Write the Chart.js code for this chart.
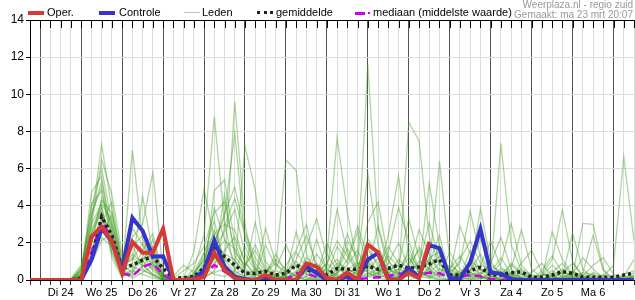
<!DOCTYPE html>
<html>
<head>
<meta charset="utf-8">
<script src="https://cdn.jsdelivr.net/npm/chart.js@4.4.1/dist/chart.umd.min.js"></script>
<style>
  body { margin: 0; background: #fff; }
  #wrap { position: relative; width: 635px; height: 300px; font-family: "Liberation Sans", Arial, sans-serif; }
  #wrap canvas { position: absolute; left: 0; top: 0; }
  .lg { position: absolute; top: 6px; font-size: 11px; color: #000; white-space: nowrap; line-height: 13px; }
  .sw { position: absolute; width: 16px; }
  .info { position: absolute; right: 2px; font-size: 10px; color: #999; white-space: nowrap; }
</style>
</head>
<body>
<div id="wrap">
  <canvas id="ensChart" width="635" height="300"></canvas>
  <div class="sw" style="left:28px;top:11px;border-top:4px solid #d43a36"></div>
  <div class="lg" style="left:47px">Oper.</div>
  <div class="sw" style="left:99px;top:11px;border-top:4px solid #3535cc"></div>
  <div class="lg" style="left:119px">Controle</div>
  <div class="sw" style="left:184px;top:12px;border-top:1px solid #a8d49a"></div>
  <div class="lg" style="left:202px">Leden</div>
  <div class="sw" style="left:257px;top:11px;border-top:3px dotted #222"></div>
  <div class="lg" style="left:276px">gemiddelde</div>
  <div class="sw" style="left:355px;top:12px;width:10px;border-top:3px solid #d000ee"></div>
  <div class="sw" style="left:368px;top:12px;width:2px;border-top:2px solid #d000ee"></div>
  <div class="lg" style="left:373px">mediaan (middelste waarde)</div>
  <div class="info" style="top:-1px">Weerplaza.nl - regio zuid</div>
  <div class="info" style="top:9px">Gemaakt: ma 23 mrt 20:07</div>
</div>
<script>
// uren vanaf di 24 00:00
var hours = [-6, 0, 6, 12, 18, 24, 30, 36, 42, 48, 54, 60, 66, 72, 78, 84, 90, 96, 102, 108,
  114, 120, 126, 132, 138, 144, 150, 156, 162, 168, 174, 180, 186, 192, 198, 204, 210, 216, 222, 228,
  234, 240, 246, 252, 258, 264, 270, 276, 282, 288, 294, 300, 306, 312, 318, 324, 330, 336, 342, 348];

var dayNames = ['Di 24', 'Wo 25', 'Do 26', 'Vr 27', 'Za 28', 'Zo 29', 'Ma 30', 'Di 31',
  'Wo 1', 'Do 2', 'Vr 3', 'Za 4', 'Zo 5', 'Ma 6'];

var yTicks = [0, 2, 4, 6, 8, 10, 12, 14];

var oper = [0, 0, 0, 0, 0, 0, 2.33, 2.87, 2.06, 0.37, 2.06, 1.47, 1.47, 2.76, 0, 0, 0.05, 0.15, 1.47, 0.54,
  0.09, 0, 0, 0.27, 0, 0, 0, 0.9, 0.72, 0.09, 0, 0.4, 0, 1.9, 1.5, 0, 0, 0.4, 0.09, 2.06];

var controle = [0, 0, 0, 0, 0, 0, 1.08, 2.78, 2.06, 0.54, 3.34, 2.65, 1.26, 1.28, 0, 0, 0.05, 0.5, 2.15, 0.72,
  0.18, 0.05, 0, 0.1, 0, 0, 0, 0.72, 0.38, 0, 0, 0.2, 0.05, 1.1, 1.45, 0.05, 0, 0.65, 0.15, 1.88,
  1.7, 0.1, 0.05, 0.95, 2.75, 0.4, 0.34, 0.05, 0, 0, 0, 0, 0, 0, 0, 0, 0, 0, 0, 0];

var gemiddelde = [0, 0, 0, 0, 0, 0.1, 1.1, 3.41, 2.4, 0.63, 0.8, 1.08, 1.26, 0.63, 0.1, 0.12, 0.18, 0.65, 1.83, 1.26,
  0.8, 0.36, 0.36, 0.45, 0.27, 0.36, 0.8, 0.54, 0.45, 0.27, 0.63, 0.58, 0.58, 0.75, 0.58, 0.63, 0.8, 0.63, 0.7, 0.86,
  1.1, 0.27, 0.27, 0.5, 0.68, 0.27, 0.27, 0.4, 0.43, 0.15, 0.15, 0.27, 0.45, 0.36, 0.15, 0.15, 0.15, 0.15, 0.27, 0.36];

var mediaan = [0, 0, 0, 0, 0, 0, 1.5, 3.14, 2.24, 0.37, 0.2, 0.72, 0.9, 0.27, 0, 0, 0.05, 0.27, 0.8, 0.45,
  0.15, 0.03, 0.03, 0.03, 0.03, 0.03, 0.36, 0.36, 0.15, 0.05, 0.05, 0.05, 0.05, 0.1, 0.15, 0.2, 0.36, 0.27, 0.27, 0.4,
  0.36, 0.1, 0.18, 0.27, 0.2, 0.05, 0, 0, 0, 0, 0, 0, 0, 0, 0, 0, 0, 0, 0, 0];

var leden = [
  [0,0,0,0,0, 0.4,3.2,7.3,3.8, 0.6,1.2,0.8,0.3, 0,0,0,0.6, 2.4,8.8,3.1,0.5, 0.2,0,0.4,1.1, 0.6,0.2,0,0, 0.3,1.8,0.9,2.6, 0.8,0.1,0,0.5, 1.2,0.4,0.1,0, 0,0.3,0.9,0.2, 0,0,0.4,0.1, 0,0,0.2,0, 0,0,0.1,0, 0,0,0],
  [0,0,0,0,0, 0.2,4.7,5.6,2.1, 0.3,7.0,2.2,1.0, 0.1,0,0,0.2, 1.4,3.2,0.7,9.6, 3.0,0.4,0,0, 0.2,1.5,0.7,0.3, 0,0.4,2.1,1.2, 11.6,2.8,0.6,0.2, 0.9,1.6,0.5,0.2, 0,0,0.5,1.4, 0.3,0,0,0, 0,0.2,0.8,0.3, 0,0,0,0, 0,0.2,0.1],
  [0,0,0,0,0.1, 0.8,2.9,6.5,4.6, 1.4,2.3,3.0,5.8, 0.4,0,0.1,1.5, 4.9,2.2,1.3,0.6, 7.2,4.85,1.0,0.3, 0.1,0,0.5,0.2, 0.6,0.2,0,0.4, 0.5,1.2,0.3,0, 0,0.2,0.6,6.4, 1.1,0.2,0,0.3, 0.8,0.4,0.1,0, 0,0,0,0, 0.3,1.2,0.6,0.1, 0,0,0.2],
  [0,0,0,0,0, 0.3,1.9,4.4,2.9, 0.8,0.4,1.6,2.5, 0.2,0,0,0, 0.3,4.8,5.4,2.0, 0.6,0.2,1.9,0.7, 6.46,5.9,1.4,0.2, 0,0.1,0.5,1.0, 5.75,1.9,0.4,0.1, 8.5,7.5,2.3,0.8, 0.3,0.1,0.4,0.2, 0,0.5,0.2,0, 0.1,0.3,1.1,3.77, 1.0,0.2,0,0, 0,0.1,0],
  [0,0,0,0,0, 0.5,3.6,5.0,1.7, 0.2,0.6,1.2,0.9, 0,0,0,0.1, 0.9,1.7,2.6,3.8, 1.4,0.5,0.2,0, 0,0.3,1.8,3.3, 1.2,7.7,3.6,0.8, 0.4,0.2,1.5,3.9, 2.1,0.6,5.2,1.8, 0.4,0.9,3.7,1.2, 0.2,0,0.3,0.6, 0.2,0,0,0, 0,0.4,0.3,0.1, 0,0,0],
  [0,0,0,0,0, 0.1,2.2,3.1,4.2, 0.9,3.5,2.7,1.1, 0.3,0.1,0.5,0.9, 1.8,3.6,4.2,1.5, 0.8,1.6,0.5,0.2, 0,0,0.2,0.9, 0.4,0.1,0.6,0.3, 1.6,0.9,0.2,0.6, 1.4,0.6,0.9,2.4, 0.2,1.1,2.1,0.9, 0.4,7.36,1.9,0.5, 0.1,0,0.1,0.4, 0.9,0.2,0,0, 0.1,0,0],
  [0,0,0,0,0, 0,1.2,2.6,3.5, 0.5,0.1,0.4,0.8, 0,0,0,0.3, 1.1,0.6,2.9,4.4, 2.4,0.9,0.3,0.1, 0.3,2.6,0.8,0.4, 0.9,2.1,1.3,0.4, 3.1,4.2,1.1,0.3, 0.2,0.1,0.7,1.3, 0.6,0.3,0.2,3.86, 1.0,0.2,0,0.1, 0,0.1,2.6,1.1, 0.3,0.2,0.1,0, 0,0.2,1.1],
  [0,0,0,0,0, 0.6,2.7,3.9,1.2, 0.1,1.9,0.6,0.2, 0,0,0,0, 0.2,0.9,1.4,1.1, 0.3,0.1,0,0.6, 1.9,0.7,0.3,2.2, 0.5,0.3,1.1,2.9, 1.3,0.4,0,0.2, 0.6,2.7,1.4,0.4, 0.1,0,0.2,0.6, 0.3,0.9,3.05,0.8, 0.2,0,0.3,0.2, 2.5,0.6,0.1,0, 0,0,0.3],
  [0,0,0,0,0, 0.2,0.9,2.1,2.5, 0.4,0.3,0.7,1.6, 0.1,0,0,0, 0.4,1.2,0.8,0.3, 0.1,0,0.3,1.4, 0.4,0.2,0.1,0, 0,0.6,0.3,0.2, 0.8,0.3,2.4,5.6, 1.2,0.4,0.2,0, 0,0.2,0.8,2.2, 0.6,0.2,0.1,0.9, 1.6,0.4,0,0, 0.2,3.05,3.0,0.6, 0,0,0],
  [0,0,0,0,0, 0.3,4.1,4.8,2.3, 0.7,0.9,4.5,1.4, 0.2,0,0.1,0.2, 0.6,2.0,3.4,7.9, 2.2,0.7,0.4,0.9, 0.2,0,0,0.3, 2.0,0.8,0.2,0.1, 0.3,0.6,1.8,0.9, 0.4,0.2,1.1,0.6, 0.2,0.5,0.3,0.1, 0,0.2,0.6,2.7, 0.6,0.1,0,0.2, 0.1,0,0.4,0.2, 0.8,6.64,2.1],
  [0,0,0,0,0, 0.1,1.6,3.3,2.8, 0.2,0.5,0.3,0.1, 0,0,0,0, 0.1,0.5,1.6,2.3, 1.0,0.2,2.8,0.9, 0.4,1.1,2.4,0.8, 0.3,0.2,0,0.6, 2.2,1.4,0.5,0.8, 3.3,1.2,0.3,0.2, 0.5,0.2,0,0.1, 0.2,0.4,0.1,0, 0,0.5,1.3,0.4, 0.1,0,0,0.3, 0.1,0,0.2],
  [0,0,0,0,0, 0.5,2.5,3.7,1.9, 0.3,2.8,1.9,0.7, 0.1,0.2,0.8,0.4, 1.0,2.7,1.1,0.4, 0.2,0.6,0.1,0, 0.1,0.4,0.9,0.2, 0.7,3.8,1.5,0.4, 0.2,0.1,0.3,1.1, 0.6,0.3,0.4,1.9, 0.3,2.9,1.4,0.2, 0.1,0,0.2,0.3, 0.1,0,0.4,0.9, 0.2,0.1,0,0, 0,0,0],
  [0,0,0,0,0, 0.2,3.0,4.1,3.2, 0.5,1.4,0.9,2.2, 0,0,0,0, 0.5,1.5,2.1,1.7, 0.6,3.1,0.8,0.2, 0,0.1,0.6,0.3, 1.4,0.5,2.5,0.9, 0.6,2.9,1.0,0.3, 1.7,0.5,0.2,0.6, 0.4,0.1,0.6,0.8, 2.1,0.7,0.3,0.1, 0,0.2,0.5,0.2, 0,0.4,2.4,0.5, 0,0,0],
  [0,0,0,0,0, 0.4,1.4,2.9,2.0, 0.9,0.7,0.5,0.3, 0,0,0,0, 0.2,0.4,0.6,0.2, 0.1,0,0,0.2, 0.8,1.6,3.0,0.5, 0.2,0,0.1,0.5, 0.3,0.2,0.6,0.3, 0.5,0.8,3.1,1.0, 0.2,0,0.1,0.3, 0.9,2.3,0.6,0.1, 0,0,0,0.5, 0.2,0,0.1,0, 0,0.3,0.5],
  [0,0,0,0,0, 0.7,3.9,6.0,3.0, 1.0,1.8,2.4,1.2, 0.2,0,0,0.4, 1.5,2.5,3.0,2.7, 0.9,0.3,0.1,0, 0.2,0.1,1.2,0.6, 0,0.3,0.2,0.9, 1.0,0.5,0.2,0.1, 0.3,1.0,0.6,0.2, 1.5,0.6,0.2,0.4, 0.1,0,0.2,0.1, 0.3,0.1,0,0.1, 0.5,0.1,0,0.2, 0,0,0.1],
  [0,0,0,0,0, 0.2,2.0,3.4,1.5, 0.4,0.8,1.0,0.6, 0.1,0,0,0, 0.3,1.1,4.6,1.3, 0.5,0.1,0.2,0.5, 0.3,0.8,0.4,1.4, 0.6,1.1,0.4,0.2, 0.2,0.4,0.9,2.0, 0.7,0.1,0.4,0.9, 0.3,0.2,1.6,0.5, 0.4,1.2,0.3,0.2, 0.1,0,0.2,0, 0,0.2,0.8,1.2, 0.3,0.1,0.4],
  [0,0,0,0,0, 0.3,1.1,2.3,1.8, 0.6,0.2,0.8,0.3, 0,0,0.2,0.1, 0.7,0.3,0.2,0.5, 1.8,0.6,0.3,0.1, 0,0.3,0.2,0, 0.1,0.4,0.8,1.6, 0.4,0.1,0.3,0.2, 0.4,1.8,0.8,0.3, 0.6,1.3,0.4,0.2, 0,0.1,0.9,0.4, 0,0.1,0.2,0.6, 0.1,0,0,0, 0,0.1,0.2],
  [0,0,0,0,0, 0.1,2.4,4.3,3.6, 1.2,2.0,1.4,0.5, 0,0.1,0,0.2, 0.8,3.9,2.2,1.0, 0.4,0.2,0.6,0.2, 0.5,0.2,0,0.1, 0.3,0.9,0.6,0.3, 0.9,0.5,0.4,0.6, 0.2,0.3,1.2,1.5, 0.1,0.4,0.2,0.1, 0.3,0.6,0.2,0, 0,0,0.1,0.1, 0.4,0.3,0.2,0.1, 0,0,0.1],
  [0,0,0,0,0, 0.6,3.4,5.3,2.6, 0.8,1.1,2.0,0.9, 0.1,0,0,0.3, 1.2,2.3,0.9,0.3, 0.7,1.9,0.6,0.2, 0.1,0.5,0.3,0.1, 0.2,0.1,0.3,0.8, 1.8,0.7,0.1,0, 0.3,0.5,0.2,0.1, 0,0.3,1.0,0.6, 0.2,0.1,0,0, 0,0.3,0.2,0.1, 0,0.1,0.3,0, 0.2,0,0],
  [0,0,0,0,0, 0.2,2.1,4.0,1.4, 0.2,0.4,1.1,1.8, 0.3,0,0,0, 0.4,1.9,3.6,5.0, 2.6,1.2,0.4,0.1, 0.2,1.0,0.5,0.3, 0.9,0.4,1.7,0.6, 0.5,0.3,1.3,0.7, 0.3,0.2,0.1,0.4, 0.8,0.4,0.1,0, 0.5,0.3,0.8,0.3, 0.4,0.9,0.2,0, 0.1,0.2,0.1,0, 0,0,0.2]
];

function toPoints(arr) {
    return arr.map(function (v, i) { return { x: hours[i], y: v }; });
}

var datasets = [];
datasets.push({ label: 'Oper.', data: toPoints(oper), borderColor: '#d43a36', borderWidth: 4, order: 0 });
datasets.push({ label: 'Controle', data: toPoints(controle), borderColor: '#3535cc', borderWidth: 4, order: 1 });
datasets.push({ label: 'gemiddelde', data: toPoints(gemiddelde), borderColor: '#222', borderWidth: 3.5, borderDash: [3, 3], order: 2 });
datasets.push({ label: 'mediaan', data: toPoints(mediaan), borderColor: '#d000ee', borderWidth: 2.5, borderDash: [8, 5], order: 3 });
leden.forEach(function (m, k) {
    datasets.push({ label: 'Leden', data: toPoints(m), borderColor: 'rgba(65,155,30,0.42)', borderWidth: 1.3, order: 10 + k });
});

// tikjes bovenrand + zwarte bovenlijn
var topTicks = {
    id: 'topTicks',
    afterDraw: function (chart) {
        var ctx = chart.ctx, xs = chart.scales.x, area = chart.chartArea;
        ctx.save();
        ctx.strokeStyle = '#000';
        ctx.lineWidth = 1;
        ctx.beginPath();
        xs.ticks.forEach(function (t) {
            var px = Math.round(xs.getPixelForValue(t.value)) + 0.5;
            ctx.moveTo(px, area.top);
            ctx.lineTo(px, area.top + 8);
        });
        ctx.moveTo(area.left, area.top + 0.5);
        ctx.lineTo(area.right, area.top + 0.5);
        ctx.stroke();
        ctx.restore();
    }
};

var ctx = document.getElementById('ensChart').getContext('2d');
var ensChart = new Chart(ctx, {
    type: 'line',
    data: { datasets: datasets },
    options: {
        responsive: false,
        animation: false,
        layout: { padding: { top: 20, right: 0, left: 0, bottom: 0 } },
        elements: { point: { radius: 0 }, line: { tension: 0, borderCapStyle: 'butt' } },
        plugins: { legend: { display: false }, tooltip: { enabled: false } },
        scales: {
            x: {
                type: 'linear',
                min: hours[0],
                max: hours[hours.length - 1],
                afterFit: function (s) { s.height = 20; },
                border: { color: '#000', width: 1 },
                grid: {
                    color: function (c) { return (c.tick && c.tick.value % 24 === 0) ? '#555' : '#dcdcdc'; },
                    tickColor: '#333',
                    tickLength: 5
                },
                ticks: {
                    stepSize: 6,
                    autoSkip: false,
                    maxRotation: 0,
                    padding: 1,
                    color: '#000',
                    font: { family: 'Liberation Sans', size: 11 },
                    callback: function (v) {
                        var h = ((v % 24) + 24) % 24;
                        if (h !== 12) return '';
                        return dayNames[(v - 12) / 24] || '';
                    }
                }
            },
            y: {
                min: yTicks[0],
                max: yTicks[yTicks.length - 1],
                afterFit: function (s) { s.width = 30; },
                afterBuildTicks: function (s) { s.ticks = yTicks.map(function (v) { return { value: v }; }); },
                border: { color: '#000', width: 1 },
                grid: { color: '#dcdcdc', tickColor: '#000', tickLength: 4 },
                ticks: { color: '#000', padding: 2, font: { family: 'Liberation Sans', size: 12 } }
            }
        }
    },
    plugins: [topTicks]
});
</script>
</body>
</html>
